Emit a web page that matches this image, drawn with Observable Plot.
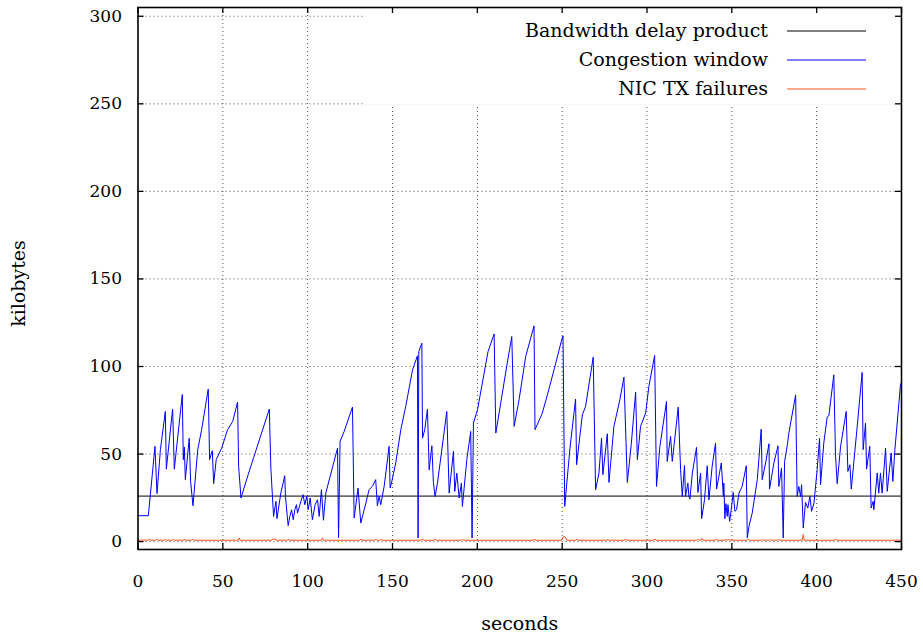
<!DOCTYPE html>
<html>
<head>
<meta charset="utf-8">
<script src="https://cdn.jsdelivr.net/npm/d3@7"></script>
<script src="https://cdn.jsdelivr.net/npm/@observablehq/plot@0.6"></script>
<style>
  body { margin: 0; background: #fff; }
  #chart svg { display: block; }
  #chart svg, #chart svg text { font-family: "DejaVu Serif", "Liberation Serif", serif; }
</style>
</head>
<body>
<div id="chart"></div>
<script>
// Congestion window samples: [seconds, kilobytes]
const cwndSamples = [
  [0,14.8],[6.1,14.8],[10.0,54.4],[11.2,27.4],[13.2,52.5],[16.1,74.3],[16.7,41.4],[20.4,75.7],
  [21.4,41.4],[26.1,84.0],[26.7,46.8],[27.3,54.0],[27.9,35.4],[30.2,59.1],[31.0,34.4],[32.4,20.5],
  [35.2,52.5],[37.5,63.9],[41.4,87.1],[42.2,46.8],[43.8,51.9],[44.6,33.1],[46.1,46.8],[49.3,53.4],
  [52.8,63.9],[55.8,68.6],[58.7,79.7],[59.3,43.0],[60.7,24.9],[65.0,38.5],[69.0,50.5],[73.0,62.5],
  [77.4,75.7],[78.3,42.0],[79.9,14.4],[81.3,23.0],[81.9,13.1],[84.2,27.8],[86.5,37.6],[86.9,25.9],
  [88.5,9.1],[89.5,14.4],[90.5,18.2],[91.5,12.5],[92.4,18.2],[93.4,21.1],[94.0,16.3],[96.0,23.0],
  [97.3,26.8],[98.3,21.1],[99.5,25.9],[100.3,18.2],[101.5,24.9],[102.8,12.5],[104.4,21.1],[105.8,23.9],
  [106.8,14.4],[108.1,29.7],[109.3,12.2],[110.7,27.8],[117.6,53.4],[118.2,2.1],[119.1,57.2],[121.5,62.9],
  [126.4,76.8],[127.4,13.5],[129.7,30.6],[131.3,10.6],[134.3,22.0],[136.2,29.7],[138.2,31.6],[140.1,35.4],
  [141.1,20.5],[142.1,25.9],[143.1,21.1],[145.1,31.6],[148.0,54.4],[148.6,30.6],[149.4,33.5],[151.9,44.9],
  [154.9,63.9],[157.8,77.2],[161.8,98.1],[164.7,106.1],[165.1,2.1],[165.5,108.5],[167.3,113.3],[167.7,59.1],
  [169.0,63.9],[170.6,75.7],[171.6,41.0],[173.2,54.7],[174.1,33.8],[175.1,25.8],[176.5,33.4],[182.0,74.3],
  [183.4,27.7],[185.9,51.5],[186.7,28.7],[187.9,39.1],[189.3,24.9],[190.6,33.4],[191.2,20.1],[193.8,46.8],
  [196.1,62.9],[196.9,2.1],[197.7,67.7],[200.1,75.3],[206.3,108.5],[209.9,118.6],[210.9,62.0],[213.8,79.1],
  [217.3,100.0],[220.3,117.1],[221.7,65.8],[224.6,81.0],[228.5,105.7],[233.4,123.2],[234.0,63.9],[235.0,66.1],
  [238.3,73.4],[241.3,83.8],[245.2,98.1],[249.7,115.2],[250.5,117.5],[251.5,20.1],[254.6,53.4],[257.9,81.4],
  [258.5,43.9],[261.9,72.4],[263.8,77.2],[268.3,105.3],[269.7,29.6],[271.7,39.1],[273.2,59.1],[274.0,38.2],
  [276.6,61.6],[277.6,33.8],[280.5,65.8],[284.0,81.0],[286.4,93.9],[288.4,33.8],[290.7,55.3],[293.3,85.3],
  [294.3,46.8],[296.2,65.8],[299.2,73.4],[301.1,88.6],[304.5,106.3],[305.6,31.5],[307.6,54.4],[311.5,80.0],
  [311.9,45.8],[313.9,60.1],[314.9,45.8],[318.4,76.8],[319.8,41.0],[320.8,25.8],[322.1,43.5],[322.7,25.8],
  [324.1,33.4],[324.7,25.8],[325.3,24.3],[326.7,39.1],[329.2,53.8],[330.0,28.1],[331.6,39.1],[332.2,13.1],
  [333.9,23.9],[335.5,43.3],[336.5,23.9],[338.4,43.0],[340.4,56.3],[341.0,30.0],[343.8,44.9],[345.0,25.8],
  [345.3,33.4],[345.9,13.1],[346.5,21.7],[347.3,14.4],[347.7,21.1],[348.7,11.6],[349.7,18.6],[350.8,28.1],
  [351.8,17.3],[352.8,18.2],[354.2,27.7],[356.1,31.5],[358.5,43.3],[359.1,2.1],[360.1,8.7],[362.0,16.3],
  [365.0,35.4],[367.3,64.2],[367.9,35.4],[369.9,44.9],[371.9,55.9],[372.2,30.0],[374.8,44.9],[377.2,54.7],
  [377.7,31.5],[379.3,42.0],[380.3,2.1],[381.1,45.8],[382.6,54.4],[383.6,61.9],[387.6,83.8],[388.5,25.8],
  [389.5,31.5],[390.5,25.8],[391.1,32.5],[392.1,7.8],[393.4,22.4],[394.8,19.2],[396.0,25.8],[397.0,17.3],
  [398.4,22.0],[400.3,41.1],[401.7,59.1],[402.3,32.5],[404.2,56.3],[406.2,71.1],[407.2,71.9],[410.1,95.2],
  [411.1,49.6],[412.1,33.1],[414.1,54.4],[417.4,74.3],[418.4,40.1],[419.6,43.9],[420.4,30.0],[423.9,65.8],
  [426.8,96.6],[427.4,52.5],[428.8,67.7],[429.4,41.4],[431.3,54.4],[432.1,19.2],[433.3,23.0],[433.7,18.2],
  [435.7,39.2],[436.6,27.7],[437.6,39.2],[438.6,27.7],[440.6,53.4],[441.6,28.7],[443.9,50.6],[444.9,34.4],
  [446.1,52.5],[449.4,89.5],[450,91.0]
];

// NIC transmit failures: [seconds, kilobytes]
const nicSamples = [
  [0,0.8],[6.1,0.8],[6.7,1.6],[7.3,0.8],[10.6,0.8],[11.2,1.4],[11.8,0.8],[15.5,0.8],[16.1,1.4],[16.7,0.8],
  [20.2,0.8],[20.8,1.4],[21.4,0.8],[26.7,0.8],[27.3,1.5],[27.9,0.8],[31.6,0.8],[32.2,1.4],[32.8,0.8],
  [59.1,0.8],[59.7,2.2],[60.3,0.8],[78.7,0.8],[79.3,1.6],[80.0,1.0],[80.7,1.8],[81.3,0.8],[87.9,0.8],
  [88.5,1.4],[89.1,0.8],[108.1,0.8],[108.7,2.2],[109.3,0.8],[130.7,0.8],[131.3,1.5],[131.9,0.8],
  [139.5,0.8],[140.1,1.4],[140.7,0.8],[142.5,0.8],[143.1,1.4],[143.7,0.8],[167.1,0.8],[167.7,1.6],
  [168.3,0.8],[174.5,0.8],[175.1,1.4],[175.7,0.8],[190.6,0.8],[191.2,1.4],[191.8,0.8],[233.2,0.8],
  [233.8,1.5],[234.4,0.8],[249.9,0.8],[250.5,2.6],[251.3,3.0],[252.1,2.4],[252.7,0.8],[257.9,0.8],
  [258.5,1.5],[259.1,0.8],[276.4,0.8],[277.0,1.4],[277.6,0.8],[286.8,0.8],[287.4,1.5],[288.0,0.8],
  [304.1,0.8],[304.7,1.5],[305.3,0.8],[329.4,0.8],[330.0,1.4],[330.6,0.8],[331.6,0.8],[332.2,2.0],
  [332.8,0.8],[340.4,0.8],[341.0,1.5],[341.6,0.8],[345.9,0.8],[346.5,1.3],[347.1,0.8],[347.4,0.8],
  [348.0,1.5],[348.6,0.8],[359.1,0.8],[359.7,1.4],[360.3,0.8],[367.4,0.8],[368.0,1.3],[368.6,0.8],
  [372.2,0.8],[372.8,1.3],[373.4,0.8],[377.1,0.8],[377.7,1.3],[378.3,0.8],[391.5,0.8],[392.1,4.0],
  [392.7,0.8],[410.5,0.8],[411.1,1.5],[411.7,0.8],[450,0.8]
];

// Bandwidth delay product (constant), kilobytes
const bdpKB = 26;

const xTicks = [0, 50, 100, 150, 200, 250, 300, 350, 400, 450];
const yTicks = [0, 50, 100, 150, 200, 250, 300];
const legendLabels = ["Bandwidth delay product", "Congestion window", "NIC TX failures"];
const seriesColors = ["#000000", "#0000ff", "#ff5020"];

const W = 923, H = 635;
const mL = 137.5, mR = 22, mT = 7, mB = 86;
const innerW = W - mL - mR, innerH = H - mT - mB;
const font = "'DejaVu Serif', 'Liberation Serif', serif";
const numberSize = 17, wordSize = 19;

const cwnd = cwndSamples.map(([t, kb]) => ({t, kb}));
const nic = nicSamples.map(([t, kb]) => ({t, kb}));

const grid = {stroke: "#000", strokeOpacity: 0.7, strokeWidth: 1, strokeDasharray: "1,3"};

const chart = Plot.plot({
  width: W, height: H,
  marginLeft: mL, marginRight: mR, marginTop: mT, marginBottom: mB,
  style: {fontFamily: font, fontSize: numberSize + "px", background: "white", color: "#000", overflow: "visible"},
  x: {domain: [0, 450]},
  y: {domain: [-4.5, 305]},
  marks: [
    Plot.gridX(xTicks.slice(1, -1), grid),
    Plot.gridY(yTicks, grid),
    // opaque key area in the top-right corner
    Plot.frame({fill: "white", stroke: null, insetLeft: 226.5, insetBottom: 445}),
    Plot.ruleY([bdpKB], {stroke: seriesColors[0], strokeWidth: 1}),
    Plot.line(nic, {x: "t", y: "kb", stroke: seriesColors[2], strokeWidth: 1}),
    Plot.line(cwnd, {x: "t", y: "kb", stroke: seriesColors[1], strokeWidth: 1, strokeLinejoin: "miter"}),
    Plot.frame({stroke: "#000", strokeWidth: 1.6}),
    // inward ticks on all four sides
    Plot.tickX(xTicks, {x: d => d, insetTop: innerH - 6, stroke: "#000", strokeWidth: 1.3}),
    Plot.tickX(xTicks, {x: d => d, insetBottom: innerH - 6, stroke: "#000", strokeWidth: 1.3}),
    Plot.tickY(yTicks, {y: d => d, insetLeft: innerW - 6, stroke: "#000", strokeWidth: 1.3}),
    Plot.tickY(yTicks, {y: d => d, insetRight: innerW - 6, stroke: "#000", strokeWidth: 1.3}),
    Plot.axisX({ticks: xTicks, tickSize: 0, tickPadding: 25, label: null, fontSize: numberSize}),
    Plot.axisY({ticks: yTicks, tickSize: 0, tickPadding: 16, label: null, fontSize: numberSize}),
    Plot.text(["seconds"], {frameAnchor: "bottom", dy: 80, fontSize: wordSize}),
    Plot.text(["kilobytes"], {frameAnchor: "left", textAnchor: "middle", dx: -119, dy: 5, rotate: -90, fontSize: wordSize})
  ]
});

// Key: labels right-aligned with sample strokes to their right
const key = d3.select(chart).append("g")
  .attr("font-size", wordSize).attr("fill", "#000");
legendLabels.forEach((label, i) => {
  const y = 31 + 29 * i;
  key.append("text").attr("x", 768).attr("y", y).attr("dy", "0.32em")
    .attr("text-anchor", "end").text(label);
  key.append("line").attr("x1", 787).attr("x2", 866).attr("y1", y).attr("y2", y)
    .attr("stroke", seriesColors[i]).attr("stroke-width", 1.2);
});

document.getElementById("chart").appendChild(chart);
</script>
</body>
</html>
